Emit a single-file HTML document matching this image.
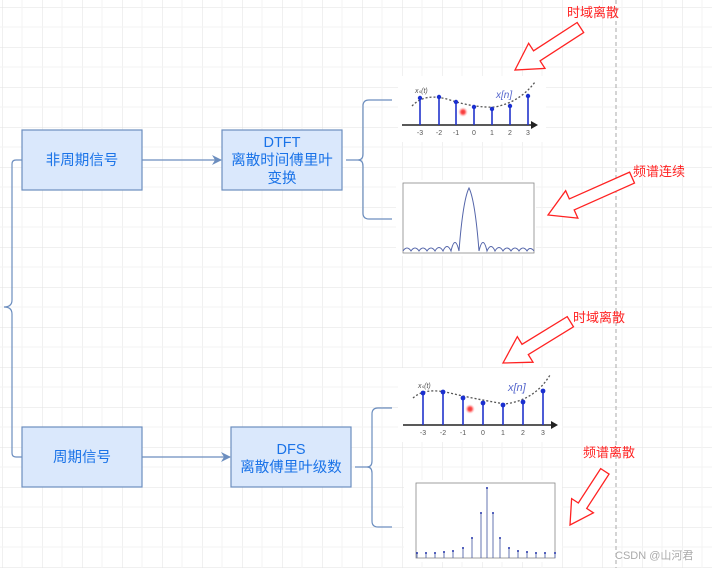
<!DOCTYPE html>
<html><head><meta charset="utf-8"><style>
body{margin:0;background:#fff}
svg{display:block}
text{font-family:"Liberation Sans","Noto Sans CJK SC",sans-serif}
</style></head><body>
<svg width="712" height="568" viewBox="0 0 712 568" xmlns="http://www.w3.org/2000/svg">
<defs>
<pattern id="g" x="2" y="7" width="40" height="40" patternUnits="userSpaceOnUse">
<path d="M0 0H40M0 0V40" stroke="#e2e2e2" stroke-width="1" fill="none"/>
<path d="M0 20H40M20 0V40" stroke="#f3f3f3" stroke-width="1" fill="none"/>
</pattern>
<marker id="ah" markerWidth="10" markerHeight="10" refX="9" refY="5" orient="auto" markerUnits="userSpaceOnUse"><path d="M0 0L10 5L0 10L3 5Z" fill="#6c8ebf"/></marker>
<radialGradient id="rd"><stop offset="0" stop-color="#e33"/><stop offset="0.4" stop-color="#f55"/><stop offset="1" stop-color="#fcc" stop-opacity="0"/></radialGradient>
</defs>
<rect width="712" height="568" fill="url(#g)"/>
<line x1="616" y1="0" x2="616" y2="568" stroke="#aaa" stroke-dasharray="4 3"/>

<path d="M22 160H16Q12 160 12 164V300Q12 307 4 307Q12 307 12 314V453Q12 457 16 457H22" fill="none" stroke="#6c8ebf" stroke-width="1.2"/>

<g fill="#dae8fc" stroke="#6c8ebf" stroke-width="1.2">
<rect x="22" y="130" width="120" height="60"/>
<rect x="222" y="130" width="120" height="60"/>
<rect x="22" y="427" width="120" height="60"/>
<rect x="231" y="427" width="120" height="60"/>
</g>
<g fill="#1a73e8" font-size="14.5" text-anchor="middle">
<text x="82" y="165">非周期信号</text>
<text x="282" y="147">DTFT</text>
<text x="282" y="165">离散时间傅里叶</text>
<text x="282" y="183">变换</text>
<text x="82" y="462">周期信号</text>
<text x="291" y="454">DFS</text>
<text x="291" y="472">离散傅里叶级数</text>
</g>
<g stroke="#6c8ebf" stroke-width="1.2" fill="none">
<line x1="142" y1="160" x2="221" y2="160" marker-end="url(#ah)"/>
<line x1="142" y1="457" x2="230" y2="457" marker-end="url(#ah)"/>
<path d="M346 160H358Q363 160 363 154V106Q363 100 369 100H392M358 160Q363 160 363 166V213Q363 219 369 219H392"/>
<path d="M355 467H367Q372 467 372 461V414Q372 408 378 408H392M367 467Q372 467 372 473V521Q372 527 378 527H392"/>
</g>

<rect x="398" y="76" width="148" height="66" fill="#fff"/>
<path d="M412 106Q425 92 450 100T495 107Q520 102 535 82" fill="none" stroke="#555" stroke-width="1.3" stroke-dasharray="2 2"/>
<line x1="402" y1="125" x2="532" y2="125" stroke="#222" stroke-width="1.5"/>
<path d="M531 121L538 125L531 129Z" fill="#222"/>
<g stroke="#2233cc" stroke-width="1.6">
<line x1="420" y1="125" x2="420" y2="98"/><line x1="439" y1="125" x2="439" y2="97"/><line x1="456" y1="125" x2="456" y2="102"/><line x1="474" y1="125" x2="474" y2="107"/><line x1="492" y1="125" x2="492" y2="109"/><line x1="510" y1="125" x2="510" y2="106"/><line x1="528" y1="125" x2="528" y2="96"/>
</g>
<g fill="#1a2fd0"><circle cx="420" cy="98" r="2.2"/><circle cx="439" cy="97" r="2.2"/><circle cx="456" cy="102" r="2.2"/><circle cx="474" cy="107" r="2.2"/><circle cx="492" cy="109" r="2.2"/><circle cx="510" cy="106" r="2.2"/><circle cx="528" cy="96" r="2.2"/></g>
<circle cx="463" cy="112" r="5" fill="url(#rd)"/>
<g font-size="7" fill="#555" font-family="Liberation Serif" text-anchor="middle"><text x="420" y="135">-3</text><text x="439" y="135">-2</text><text x="456" y="135">-1</text><text x="474" y="135">0</text><text x="492" y="135">1</text><text x="510" y="135">2</text><text x="528" y="135">3</text></g>
<text x="415" y="93" font-size="7" fill="#555" font-family="Liberation Serif" font-style="italic">xₛ(t)</text>
<text x="496" y="98" font-size="10" fill="#5566cc" font-family="Liberation Serif" font-style="italic">x[n]</text>

<rect x="396" y="180" width="140" height="76" fill="#fff"/>
<rect x="403" y="183" width="131" height="70" fill="none" stroke="#888" stroke-width="0.8"/>
<path d="M403 251Q407 245 411 251Q415 245 419 251Q423 245 427 251Q431 245 435 251Q439 244 443 251Q447 242 451 251Q455 234 459 251Q463 200 469 188Q475 200 479 251Q483 234 487 251Q491 242 495 251Q499 244 503 251Q507 245 511 251Q515 245 519 251Q523 245 527 251Q530 246 534 251" fill="none" stroke="#5566aa" stroke-width="1"/>

<rect x="398" y="368" width="164" height="74" fill="#fff"/>
<path d="M413 398Q425 387 450 393T505 404Q535 400 550 375" fill="none" stroke="#555" stroke-width="1.3" stroke-dasharray="2 2"/>
<line x1="403" y1="425" x2="552" y2="425" stroke="#222" stroke-width="1.5"/>
<path d="M551 421L558 425L551 429Z" fill="#222"/>
<g stroke="#2233cc" stroke-width="1.6">
<line x1="423" y1="425" x2="423" y2="393"/><line x1="443" y1="425" x2="443" y2="392"/><line x1="463" y1="425" x2="463" y2="398"/><line x1="483" y1="425" x2="483" y2="403"/><line x1="503" y1="425" x2="503" y2="405"/><line x1="523" y1="425" x2="523" y2="402"/><line x1="543" y1="425" x2="543" y2="391"/>
</g>
<g fill="#1a2fd0"><circle cx="423" cy="393" r="2.4"/><circle cx="443" cy="392" r="2.4"/><circle cx="463" cy="398" r="2.4"/><circle cx="483" cy="403" r="2.4"/><circle cx="503" cy="405" r="2.4"/><circle cx="523" cy="402" r="2.4"/><circle cx="543" cy="391" r="2.4"/></g>
<circle cx="470" cy="409" r="5" fill="url(#rd)"/>
<g font-size="7" fill="#555" font-family="Liberation Serif" text-anchor="middle"><text x="423" y="435">-3</text><text x="443" y="435">-2</text><text x="463" y="435">-1</text><text x="483" y="435">0</text><text x="503" y="435">1</text><text x="523" y="435">2</text><text x="543" y="435">3</text></g>
<text x="418" y="388" font-size="7" fill="#555" font-family="Liberation Serif" font-style="italic">xₛ(t)</text>
<text x="508" y="391" font-size="11" fill="#5566cc" font-family="Liberation Serif" font-style="italic">x[n]</text>

<rect x="404" y="480" width="158" height="82" fill="#fff"/>
<rect x="416" y="483" width="139" height="75" fill="none" stroke="#888" stroke-width="0.8"/>
<g stroke="#5566aa" stroke-width="0.9">
<line x1="417" y1="558" x2="417" y2="553"/><line x1="426" y1="558" x2="426" y2="553"/><line x1="435" y1="558" x2="435" y2="553"/><line x1="444" y1="558" x2="444" y2="552"/><line x1="453" y1="558" x2="453" y2="551"/><line x1="463" y1="558" x2="463" y2="548"/><line x1="472" y1="558" x2="472" y2="538"/><line x1="481" y1="558" x2="481" y2="513"/><line x1="487" y1="558" x2="487" y2="488"/><line x1="493" y1="558" x2="493" y2="513"/><line x1="500" y1="558" x2="500" y2="538"/><line x1="509" y1="558" x2="509" y2="548"/><line x1="518" y1="558" x2="518" y2="551"/><line x1="527" y1="558" x2="527" y2="552"/><line x1="536" y1="558" x2="536" y2="553"/><line x1="545" y1="558" x2="545" y2="553"/><line x1="555" y1="558" x2="555" y2="553"/>
</g>
<g fill="#2233aa"><circle cx="417" cy="553" r="1"/><circle cx="426" cy="553" r="1"/><circle cx="435" cy="553" r="1"/><circle cx="444" cy="552" r="1"/><circle cx="453" cy="551" r="1"/><circle cx="463" cy="548" r="1"/><circle cx="472" cy="538" r="1"/><circle cx="481" cy="513" r="1"/><circle cx="487" cy="488" r="1"/><circle cx="493" cy="513" r="1"/><circle cx="500" cy="538" r="1"/><circle cx="509" cy="548" r="1"/><circle cx="518" cy="551" r="1"/><circle cx="527" cy="552" r="1"/><circle cx="536" cy="553" r="1"/><circle cx="545" cy="553" r="1"/><circle cx="555" cy="553" r="1"/></g>

<g fill="#fff" stroke="#f22" stroke-width="1.3">
<polygon transform="translate(515,70) rotate(-33)" points="0,0 26,-15 26,-6 78,-6 78,6 26,6 26,15"/>
<polygon transform="translate(548,215) rotate(-24)" points="0,0 26,-15 26,-6 92,-6 92,6 26,6 26,15"/>
<polygon transform="translate(503,363) rotate(-31.5)" points="0,0 26,-15 26,-6 79,-6 79,6 26,6 26,15"/>
<polygon transform="translate(570,525) rotate(-57)" points="0,0 23,-13 23,-5 64,-5 64,5 23,5 23,13"/>
</g>
<g fill="#f22" font-size="13">
<text x="567" y="17">时域离散</text>
<text x="633" y="176">频谱连续</text>
<text x="573" y="322">时域离散</text>
<text x="583" y="457">频谱离散</text>
</g>
<text x="615" y="559" font-size="11" fill="#aaa">CSDN @山河君</text>
</svg>
</body></html>
